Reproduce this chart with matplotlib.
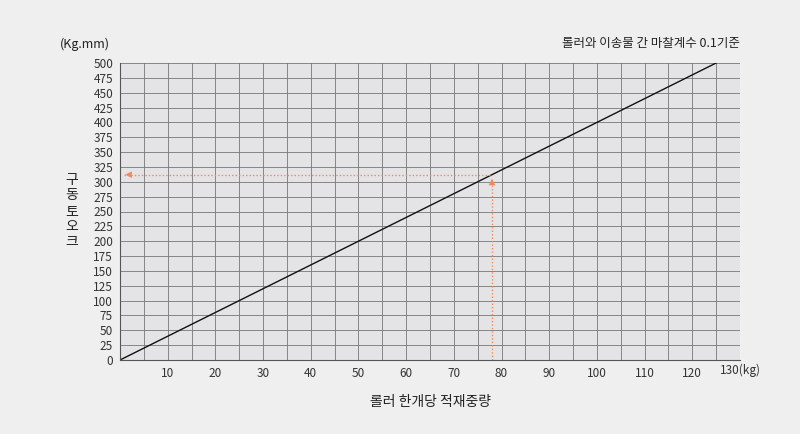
import matplotlib
matplotlib.use("Agg")
import matplotlib.pyplot as plt
import numpy as np

plt.rcParams['font.family'] = ['Noto Sans CJK KR', 'DejaVu Sans']

line_x = [0, 125]
line_y = [0, 500]
pick_x = 78
pick_y = 312
xticks = list(range(10, 130, 10))
xtick_labels = [str(v) for v in xticks]
yticks = list(range(0, 501, 25))

fig = plt.figure(figsize=(8, 4.34), dpi=100)
fig.patch.set_facecolor('#efefef')
ax = fig.add_axes([120/800, 1-360/434, 620/800, 297/434])
ax.set_facecolor('#e4e4e6')
ax.set_xlim(0, 130)
ax.set_ylim(0, 500)
ax.set_xticks(np.arange(0, 131, 5), minor=True)
ax.set_xticks(xticks)
ax.set_xticklabels(xtick_labels, fontsize=8.5, color='#333')
ax.set_yticks(yticks)
ax.set_yticklabels([str(v) for v in yticks], fontsize=8.5, color='#333')
ax.tick_params(length=0, pad=5)
ax.tick_params(which='minor', length=0)
ax.grid(True, which='both', color='#777', lw=0.6)
for s in ['top', 'right']:
    ax.spines[s].set_visible(False)
for s in ['left', 'bottom']:
    ax.spines[s].set_color('#555')
ax.plot(line_x, line_y, color='#111', lw=1)
oc = '#f08a5d'
ax.plot([0.8, pick_x], [pick_y, pick_y], ls=(0, (1, 1.5)), color=oc, lw=1)
ax.plot([pick_x, pick_x], [0, 300], ls=(0, (1, 1.5)), color=oc, lw=1)
ax.annotate('', xy=(0.5, pick_y), xytext=(3.5, pick_y),
            arrowprops=dict(arrowstyle='-|>', color=oc, lw=0, mutation_scale=12))
ax.annotate('', xy=(pick_x, 310), xytext=(pick_x, 292),
            arrowprops=dict(arrowstyle='-|>', color=oc, lw=0, mutation_scale=12))
ax.text(130, -7, '130(kg)', ha='center', va='top', fontsize=8.5, color='#333')

fig.text(60/800, 1-44/434, '(Kg.mm)', fontsize=9, va='center', color='#222')
fig.text(740/800, 1-44/434, '롤러와 이송물 간 마찰계수 0.1기준', fontsize=9, ha='right', va='center', color='#222')
fig.text(72/800, 1-211/434, '구\n동\n토\n오\n크', fontsize=10, ha='center', va='center',
         linespacing=1.15, color='#222')
fig.text(430/800, 1-402/434, '롤러 한개당 적재중량', fontsize=10, ha='center', va='center', color='#222')
fig.savefig('out.png', dpi=100, facecolor=fig.get_facecolor())
